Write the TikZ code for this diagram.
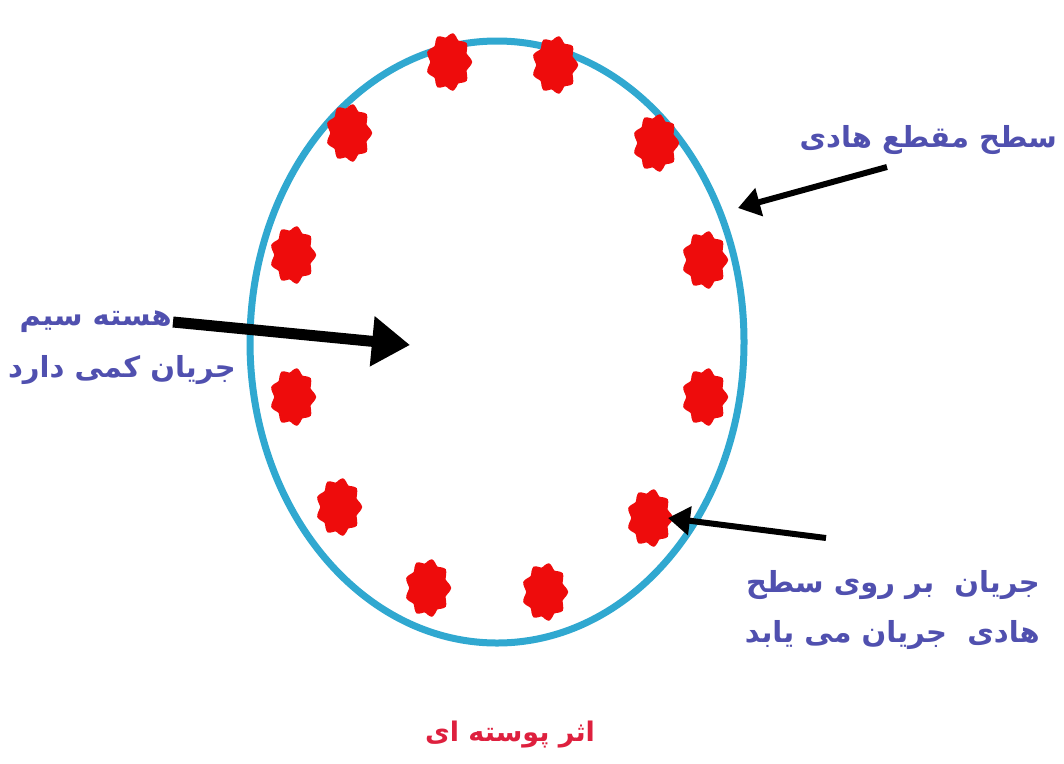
\documentclass[tikz,border=0pt]{standalone}
\usepackage{fontspec}
\TeXXeTstate=1
\newfontfamily\fa[Script=Arabic]{DejaVu Sans}
\usetikzlibrary{arrows.meta}
\definecolor{ring}{RGB}{48,168,208}
\definecolor{lbl}{RGB}{80,80,175}
\definecolor{dot}{RGB}{238,12,12}
\definecolor{ttl}{RGB}{222,32,62}
\tikzset{
  lbltext/.style={text=lbl, font=\fa\bfseries\fontsize{29}{34}\selectfont, inner sep=0pt, anchor=east},
  pointer/.style={draw=black, line width=6, -{Triangle[length=22pt,width=28pt]}},
  bigpointer/.style={draw=black, line width=11, -{Triangle[length=38pt,width=48pt]}},
}
\begin{document}
\begin{tikzpicture}[x=1pt,y=-1pt]
\useasboundingbox (0,0) rectangle (1064,763);
\fill[white] (0,0) rectangle (1064,763);
\draw[ring, line width=7] (497,342) ellipse [x radius=247, y radius=301];
\foreach \cx/\cy in {449/62, 555/65, 349/133, 656/143, 293/255, 705/260, 293/397, 705/397, 339/507, 650/518, 428/588, 545/592}{
  \fill[dot] plot[smooth cycle, tension=0.6, variable=\t, domain=0:350, samples=36] ({\cx+(21+2.2*cos(9*\t))*cos(\t)},{\cy+(27+2.2*cos(9*\t))*sin(\t)});
}
% labels
\node[lbltext] (surf) at (1057,140) {\fa\beginR سطح مقطع هادی\endR};
\node[lbltext] (core1) at (172,322) {\fa\beginR هسته سیم\endR};
\node[lbltext] (core2) at (236,370) {\fa\beginR جریان کمی دارد\endR};
\node[lbltext] (skin1) at (1040,585) {\fa\beginR جریان\ \ بر\ روی\ سطح\endR};
\node[lbltext] (skin2) at (1040,635) {\fa\beginR هادی\ \ جریان می یابد\endR};
\node[text=ttl, font=\fa\bfseries\fontsize{27}{32}\selectfont, inner sep=0pt] (title) at (510,735) {\fa\beginR اثر پوسته ای\endR};
% arrow endpoints
\coordinate (a1s) at (887,167);
\coordinate (a1e) at (738,208);
\coordinate (a2s) at (173,322);
\coordinate (a2e) at (410,345);
\coordinate (a3s) at (826,538);
\coordinate (a3e) at (668,518);
\draw[pointer] (a1s) -- (a1e);
\draw[bigpointer] (a2s) -- (a2e);
\draw[pointer] (a3s) -- (a3e);
\end{tikzpicture}
\end{document}
